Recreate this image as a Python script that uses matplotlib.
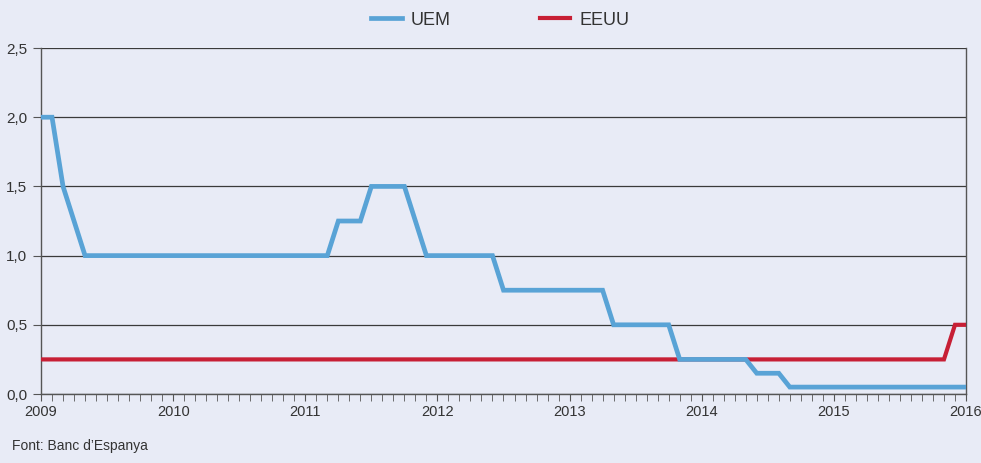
import numpy as np
import matplotlib
matplotlib.use('Agg')
import matplotlib.pyplot as plt
from matplotlib.ticker import FuncFormatter, MultipleLocator

plt.rcParams['font.family'] = ['Liberation Sans Narrow', 'Liberation Sans', 'DejaVu Sans']

# Tipus d'interès oficials, dades mensuals gen 2009 - gen 2016
uem = ([2.0, 2.0, 1.5, 1.25] + [1.0] * 23 + [1.25, 1.25, 1.25] + [1.5] * 4 + [1.25]
       + [1.0] * 7 + [0.75] * 10 + [0.5] * 6 + [0.25] * 7 + [0.15] * 3 + [0.05] * 17)
eeuu = [0.25] * 83 + [0.5, 0.5]
months = np.arange(len(uem))
year_labels = [str(y) for y in range(2009, 2017)]

bg = '#e8ebf6'
fig = plt.figure(figsize=(9.81, 4.63), dpi=100, facecolor=bg)
ax = fig.add_axes([0.0418, 0.149, 0.9429, 0.7473], facecolor=bg)

l_eeuu, = ax.plot(months, eeuu, color='#c71f35', lw=3.0, solid_joinstyle='miter', zorder=3)
l_uem, = ax.plot(months, uem, color='#59a3d6', lw=3.4, solid_joinstyle='miter', zorder=4)

ax.set_xlim(0, 84)
ax.set_ylim(0, 2.5)
ax.set_xticks(np.arange(0, 85, 12))
ax.set_xticklabels(year_labels)
ax.xaxis.set_minor_locator(MultipleLocator(1))
ax.yaxis.set_major_locator(MultipleLocator(0.5))
ax.yaxis.set_major_formatter(FuncFormatter(lambda v, p: f'{v:.1f}'.replace('.', ',')))
ax.grid(axis='y', color='#3a3a3a', lw=0.9, zorder=1)

for s in ['left', 'bottom', 'right']:
    ax.spines[s].set_color('#555555')
    ax.spines[s].set_linewidth(1.0)
ax.spines['top'].set_visible(False)

ax.tick_params(axis='x', which='major', length=5, color='#555555', labelsize=10.5,
               labelcolor='#333333', pad=3)
ax.tick_params(axis='x', which='minor', length=5, color='#555555')
ax.tick_params(axis='y', length=6, color='#555555', labelsize=11, labelcolor='#333333', pad=4)

fig.legend([l_uem, l_eeuu], ['UEM', 'EEUU'], loc='upper center', bbox_to_anchor=(0.51, 1.01),
           ncol=2, frameon=False, fontsize=13, handlelength=1.7, handletextpad=0.5,
           columnspacing=4.9, labelcolor='#333333')

fig.text(0.012, 0.028, 'Font: Banc d\u2019Espanya', fontsize=10, color='#333333')

fig.savefig('out.png', dpi=100, facecolor=bg)
